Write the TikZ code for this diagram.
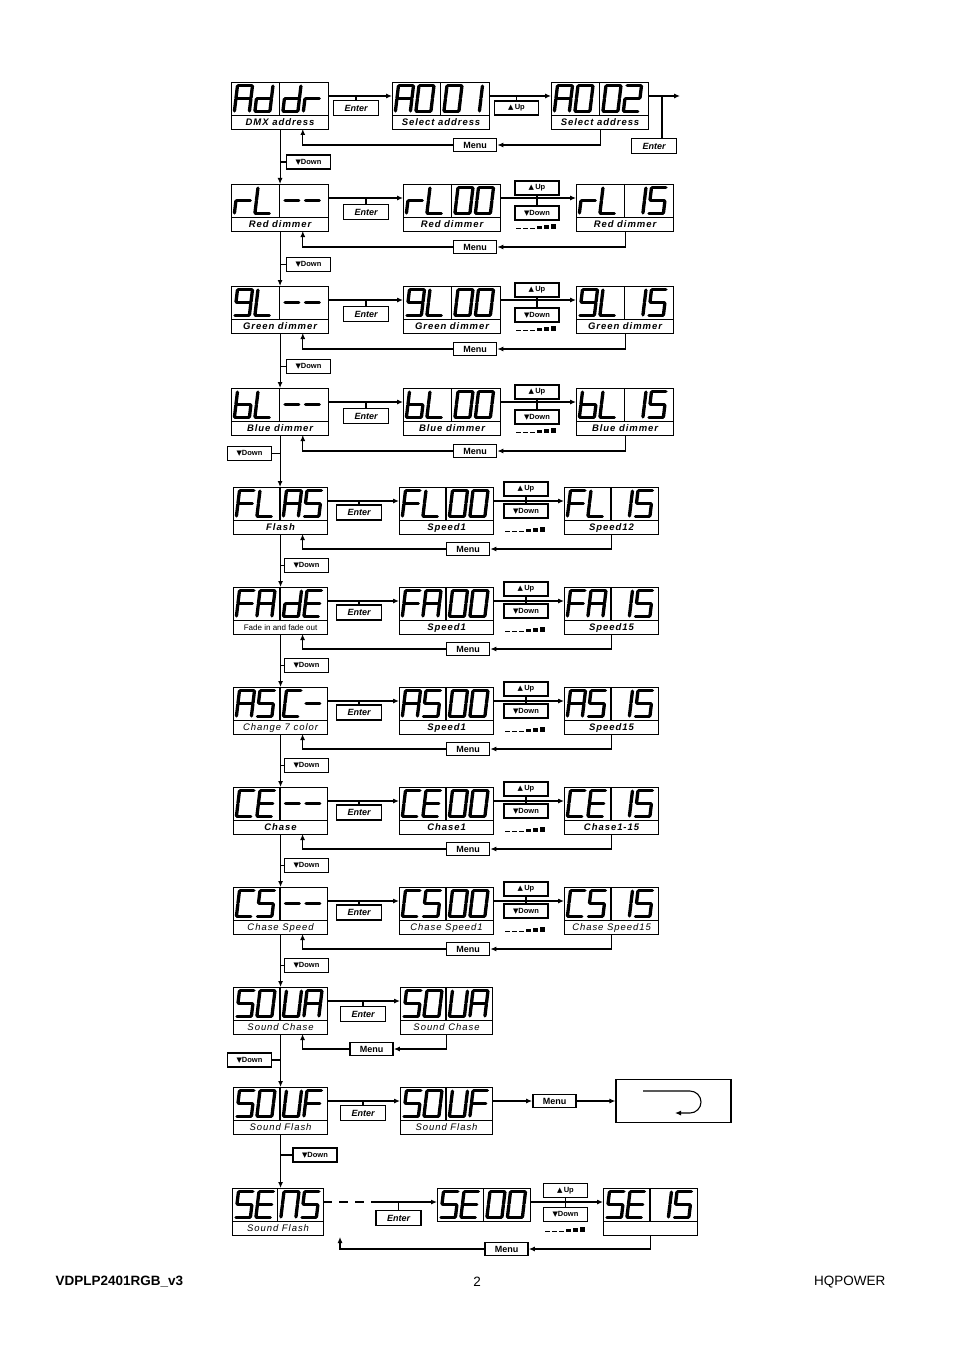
\documentclass[tikz,border=0pt]{standalone}
\usepackage{fontspec}
\setmainfont{Liberation Sans}
\newfontfamily\lblfont[LetterSpace=10]{Liberation Sans}
\newfontfamily\symfont{DejaVu Sans}
\usetikzlibrary{arrows.meta,positioning}

\tikzset{every picture/.style={line width=1.1pt}}
\tikzset{
  ledseg/.style={line width=3.3pt,line cap=round},
  panel/.style={draw,line width=1.1pt,anchor=north west,inner sep=0pt},
  panellbl/.style={font=\lblfont\bfseries\itshape\fontsize{9.5}{10}\selectfont},
  keybox/.style={draw,line width=1.1pt,inner sep=0pt,minimum width=45,minimum height=15,font=\bfseries\itshape\fontsize{9}{10}\selectfont},
  navkey/.style={keybox,minimum width=44,minimum height=14,font=\bfseries\fontsize{7.5}{8}\selectfont},
  menubox/.style={draw,line width=1.7pt,inner sep=0pt,minimum width=43,minimum height=13,font=\bfseries\fontsize{9}{10}\selectfont},
  flow/.style={-{Latex[length=6pt,width=5pt]}}
}

% seven segment pieces (cell 15 x 26, y downwards)
\def\sga{(0.6,0)--(14.4,0)}
\def\sgb{(15,0.6)--(15,12.4)}
\def\sgc{(15,13.6)--(15,25.4)}
\def\sgd{(0.6,26)--(14.4,26)}
\def\sge{(0,13.6)--(0,25.4)}
\def\sgf{(0,0.6)--(0,12.4)}
\def\sgg{(0.6,13)--(14.4,13)}
\newcommand{\defseg}[2]{\expandafter\def\csname ledchar#1\endcsname{#2}}
\defseg{A}{a,b,c,e,f,g}
\defseg{d}{b,c,d,e,g}
\defseg{r}{e,g}
\defseg{0}{a,b,c,d,e,f}
\defseg{1}{b,c}
\defseg{2}{a,b,g,e,d}
\defseg{L}{f,e,d}
\defseg{-}{g}
\defseg{S}{a,f,g,c,d}
\defseg{5}{a,f,g,c,d}
\defseg{9}{a,b,c,d,f,g}
\defseg{b}{f,e,d,c,g}
\defseg{F}{a,f,e,g}
\defseg{E}{a,f,e,g,d}
\defseg{C}{a,f,e,d}
\defseg{U}{f,e,d,c,b}
\defseg{n}{a,b,c,e,f}

\newcommand{\ledchar}[3]{%
  \begin{scope}[shift={(#1,#2)},xslant=-0.12]
    \edef\seglist{\csname ledchar#3\endcsname}%
    \foreach \s in \seglist {\edef\segcmd{\noexpand\draw[ledseg] \csname sg\s\endcsname;}\segcmd}
  \end{scope}}
\newcommand{\ledtop}[8]{%
  \node[panel,minimum width=#4,minimum height=33] (#1) at (#2,#3) {};
  \draw (#2+#4/2,#3) -- (#2+#4/2,#3+33);
  \ledchar{#2+6.5}{#3+3.5}{#5}\ledchar{#2+27}{#3+3.5}{#6}%
  \ledchar{#2+#4/2+6.5}{#3+3.5}{#7}\ledchar{#2+#4/2+27}{#3+3.5}{#8}%
  \coordinate (#1-w) at (#2,#3+14);
  \coordinate (#1-e) at (#2+#4,#3+14);}
\newcommand{\ledpanel}[9]{%
  \ledtop{#1}{#2}{#3}{#4}{#5}{#6}{#7}{#8}%
  \node[panel,panellbl,minimum width=#4,minimum height=14] (#1-lbl) at (#2,#3+33) {#9};
  \coordinate (#1-r) at (#2+0.74*#4,#3+47);}
\newcommand{\levelmarks}[2]{%
  \foreach \dx/\h in {0/1.3,7/1.3,14/1.5,21/3.2,28/4,35/5}{\fill (#1+\dx,#2) rectangle ++(5,-\h);}}
\newcommand{\upkey}{{\symfont\fontsize{7}{8}\selectfont ▲}\,Up}
\newcommand{\downkey}{{\symfont\fontsize{7}{8}\selectfont ▼}Down}

\begin{document}
\begin{tikzpicture}[x=1pt,y=1pt,yscale=-1,xscale=1]
	\useasboundingbox (0,0) rectangle (954,1351);
	
	%Row: DMX address
	\ledpanel{addr}{231}{82}{97}{A}{d}{d}{r}{DMX address}
	\ledpanel{a001}{392}{82}{97}{A}{0}{0}{1}{Select address}
	\ledpanel{a002}{551}{82}{97}{A}{0}{0}{2}{Select address}
	\node[keybox] (enter1) at (356,108) {Enter};
	\node[navkey] (up1) at (516.5,108) {\upkey};
	\node[keybox] (enter1b) at (654,146) {Enter};
	\node[menubox] (menu1) at (475,145) {Menu};
	\node[navkey] (down1) at (308.5,162) {\downkey};
	\coordinate (a002-tap) at (662,96);
	\coordinate (a002-out) at (680,96);
	%Straight Lines
	\draw[flow] (addr-e) -- (a001-w);
	\draw (enter1.north) -- (enter1.north |- addr-e);
	\draw[flow] (a001-e) -- (a002-w);
	\draw (up1.north) -- (up1.north |- a001-e);
	\draw[flow] (a002-e) -- (a002-out);
	\draw (a002-tap) -- (a002-tap |- enter1b.north);
	\draw[flow] (a002-lbl.south) |- (menu1.east);
	\draw[flow] (menu1.west) -| (addr-r);
	\draw (down1.west) -- (down1.west -| addr-lbl.south);
	
	%Row: Red dimmer
	\ledpanel{rl}{231}{184}{97}{r}{L}{-}{-}{Red dimmer}
	\ledpanel{rl00}{403}{184}{97}{r}{L}{0}{0}{Red dimmer}
	\ledpanel{rl15}{576}{184}{97}{r}{L}{1}{5}{Red dimmer}
	\node[keybox] (enter2) at (366,212) {Enter};
	\node[navkey] (up2) at (537,188) {\upkey};
	\node[navkey] (down2b) at (537,213) {\downkey};
	\levelmarks{516}{229}
	\node[menubox] (menu2) at (475,247) {Menu};
	\node[navkey] (down2) at (308.5,264.5) {\downkey};
	%Straight Lines
	\draw[flow] (addr-lbl.south) -- (addr-lbl.south |- rl.north);
	\draw[flow] (rl-e) -- (rl00-w);
	\draw (enter2.north) -- (enter2.north |- rl-e);
	\draw[flow] (rl00-e) -- (rl15-w);
	\draw (up2.south) -- (down2b.north);
	\draw[flow] (rl15-lbl.south) |- (menu2.east);
	\draw[flow] (menu2.west) -| (rl-r);
	\draw (down2.west) -- (down2.west -| rl-lbl.south);
	
	%Row: Green dimmer
	\ledpanel{gl}{231}{286}{97}{9}{L}{-}{-}{Green dimmer}
	\ledpanel{gl00}{403}{286}{97}{9}{L}{0}{0}{Green dimmer}
	\ledpanel{gl15}{576}{286}{97}{9}{L}{1}{5}{Green dimmer}
	\node[keybox] (enter3) at (366,314) {Enter};
	\node[navkey] (up3) at (537,290) {\upkey};
	\node[navkey] (down3b) at (537,315) {\downkey};
	\levelmarks{516}{331}
	\node[menubox] (menu3) at (475,349) {Menu};
	\node[navkey] (down3) at (308.5,366.5) {\downkey};
	%Straight Lines
	\draw[flow] (rl-lbl.south) -- (rl-lbl.south |- gl.north);
	\draw[flow] (gl-e) -- (gl00-w);
	\draw (enter3.north) -- (enter3.north |- gl-e);
	\draw[flow] (gl00-e) -- (gl15-w);
	\draw (up3.south) -- (down3b.north);
	\draw[flow] (gl15-lbl.south) |- (menu3.east);
	\draw[flow] (menu3.west) -| (gl-r);
	\draw (down3.west) -- (down3.west -| gl-lbl.south);
	
	%Row: Blue dimmer
	\ledpanel{bl}{231}{388}{97}{b}{L}{-}{-}{Blue dimmer}
	\ledpanel{bl00}{403}{388}{97}{b}{L}{0}{0}{Blue dimmer}
	\ledpanel{bl15}{576}{388}{97}{b}{L}{1}{5}{Blue dimmer}
	\node[keybox] (enter4) at (366,416) {Enter};
	\node[navkey] (up4) at (537,392) {\upkey};
	\node[navkey] (down4b) at (537,417) {\downkey};
	\levelmarks{516}{433}
	\node[menubox] (menu4) at (475,451) {Menu};
	\node[navkey] (down4) at (249.5,453.5) {\downkey};
	%Straight Lines
	\draw[flow] (gl-lbl.south) -- (gl-lbl.south |- bl.north);
	\draw[flow] (bl-e) -- (bl00-w);
	\draw (enter4.north) -- (enter4.north |- bl-e);
	\draw[flow] (bl00-e) -- (bl15-w);
	\draw (up4.south) -- (down4b.north);
	\draw[flow] (bl15-lbl.south) |- (menu4.east);
	\draw[flow] (menu4.west) -| (bl-r);
	\draw (down4.east) -- (down4.east -| bl-lbl.south);
	
	%Row: Flash
	\ledpanel{flas}{233}{487}{94}{F}{L}{A}{S}{Flash}
	\ledpanel{fl00}{399}{487}{94}{F}{L}{0}{0}{Speed1}
	\ledpanel{fl15}{564}{487}{94}{F}{L}{1}{5}{Speed12}
	\node[keybox] (enter5) at (359,512.5) {Enter};
	\node[navkey] (up5) at (526,489) {\upkey};
	\node[navkey] (down5b) at (526,511) {\downkey};
	\levelmarks{505}{532}
	\node[menubox] (menu5) at (468,549) {Menu};
	\node[navkey] (down5) at (306.5,565.5) {\downkey};
	%Straight Lines
	\draw[flow] (bl-lbl.south) -- (bl-lbl.south |- flas.north);
	\draw[flow] (flas-e) -- (fl00-w);
	\draw (enter5.north) -- (enter5.north |- flas-e);
	\draw[flow] (fl00-e) -- (fl15-w);
	\draw (up5.south) -- (down5b.north);
	\draw[flow] (fl15-lbl.south) |- (menu5.east);
	\draw[flow] (menu5.west) -| (flas-r);
	\draw (down5.west) -- (down5.west -| flas-lbl.south);
	
	%Row: Fade
	\ledpanel{fade}{233}{587}{94}{F}{A}{d}{E}{\normalfont\fontsize{8}{9}\selectfont Fade in and fade out}
	\ledpanel{fa00}{399}{587}{94}{F}{A}{0}{0}{Speed1}
	\ledpanel{fa15}{564}{587}{94}{F}{A}{1}{5}{Speed15}
	\node[keybox] (enter6) at (359,612.5) {Enter};
	\node[navkey] (up6) at (526,589) {\upkey};
	\node[navkey] (down6b) at (526,611) {\downkey};
	\levelmarks{505}{632}
	\node[menubox] (menu6) at (468,649) {Menu};
	\node[navkey] (down6) at (306.5,665.5) {\downkey};
	%Straight Lines
	\draw[flow] (flas-lbl.south) -- (flas-lbl.south |- fade.north);
	\draw[flow] (fade-e) -- (fa00-w);
	\draw (enter6.north) -- (enter6.north |- fade-e);
	\draw[flow] (fa00-e) -- (fa15-w);
	\draw (up6.south) -- (down6b.north);
	\draw[flow] (fa15-lbl.south) |- (menu6.east);
	\draw[flow] (menu6.west) -| (fade-r);
	\draw (down6.west) -- (down6.west -| fade-lbl.south);
	
	%Row: Change 7 color
	\ledpanel{asc}{233}{687}{94}{A}{S}{C}{-}{\mdseries Change 7 color}
	\ledpanel{as00}{399}{687}{94}{A}{S}{0}{0}{Speed1}
	\ledpanel{as15}{564}{687}{94}{A}{S}{1}{5}{Speed15}
	\node[keybox] (enter7) at (359,712.5) {Enter};
	\node[navkey] (up7) at (526,689) {\upkey};
	\node[navkey] (down7b) at (526,711) {\downkey};
	\levelmarks{505}{732}
	\node[menubox] (menu7) at (468,749) {Menu};
	\node[navkey] (down7) at (306.5,765.5) {\downkey};
	%Straight Lines
	\draw[flow] (fade-lbl.south) -- (fade-lbl.south |- asc.north);
	\draw[flow] (asc-e) -- (as00-w);
	\draw (enter7.north) -- (enter7.north |- asc-e);
	\draw[flow] (as00-e) -- (as15-w);
	\draw (up7.south) -- (down7b.north);
	\draw[flow] (as15-lbl.south) |- (menu7.east);
	\draw[flow] (menu7.west) -| (asc-r);
	\draw (down7.west) -- (down7.west -| asc-lbl.south);
	
	%Row: Chase
	\ledpanel{ce}{233}{787}{94}{C}{E}{-}{-}{Chase}
	\ledpanel{ce00}{399}{787}{94}{C}{E}{0}{0}{Chase1}
	\ledpanel{ce15}{564}{787}{94}{C}{E}{1}{5}{Chase1-15}
	\node[keybox] (enter8) at (359,812.5) {Enter};
	\node[navkey] (up8) at (526,789) {\upkey};
	\node[navkey] (down8b) at (526,811) {\downkey};
	\levelmarks{505}{832}
	\node[menubox] (menu8) at (468,849) {Menu};
	\node[navkey] (down8) at (306.5,865.5) {\downkey};
	%Straight Lines
	\draw[flow] (asc-lbl.south) -- (asc-lbl.south |- ce.north);
	\draw[flow] (ce-e) -- (ce00-w);
	\draw (enter8.north) -- (enter8.north |- ce-e);
	\draw[flow] (ce00-e) -- (ce15-w);
	\draw (up8.south) -- (down8b.north);
	\draw[flow] (ce15-lbl.south) |- (menu8.east);
	\draw[flow] (menu8.west) -| (ce-r);
	\draw (down8.west) -- (down8.west -| ce-lbl.south);
	
	%Row: Chase Speed
	\ledpanel{cs}{233}{887}{94}{C}{S}{-}{-}{\mdseries Chase Speed}
	\ledpanel{cs00}{399}{887}{94}{C}{S}{0}{0}{\mdseries Chase Speed1}
	\ledpanel{cs15}{564}{887}{94}{C}{S}{1}{5}{\mdseries Chase Speed15}
	\node[keybox] (enter9) at (359,912.5) {Enter};
	\node[navkey] (up9) at (526,889) {\upkey};
	\node[navkey] (down9b) at (526,911) {\downkey};
	\levelmarks{505}{932}
	\node[menubox] (menu9) at (468,949) {Menu};
	\node[navkey] (down9) at (306.5,965.5) {\downkey};
	%Straight Lines
	\draw[flow] (ce-lbl.south) -- (ce-lbl.south |- cs.north);
	\draw[flow] (cs-e) -- (cs00-w);
	\draw (enter9.north) -- (enter9.north |- cs-e);
	\draw[flow] (cs00-e) -- (cs15-w);
	\draw (up9.south) -- (down9b.north);
	\draw[flow] (cs15-lbl.south) |- (menu9.east);
	\draw[flow] (menu9.west) -| (cs-r);
	\draw (down9.west) -- (down9.west -| cs-lbl.south);
	
	%Row: Sound Chase
	\ledpanel{soua}{233}{987}{94}{S}{0}{U}{A}{\mdseries Sound Chase}
	\ledpanel{soua2}{400}{987}{92}{S}{0}{U}{A}{\mdseries Sound Chase}
	\node[keybox] (enter10) at (363,1014) {Enter};
	\node[menubox] (menu10) at (371.5,1049) {Menu};
	\node[navkey] (down10) at (249.5,1060) {\downkey};
	%Straight Lines
	\draw[flow] (cs-lbl.south) -- (cs-lbl.south |- soua.north);
	\draw[flow] (soua-e) -- (soua2-w);
	\draw (enter10.north) -- (enter10.north |- soua-e);
	\draw[flow] (soua2-lbl.south) |- (menu10.east);
	\draw[flow] (menu10.west) -| (soua-r);
	\draw (down10.east) -- (down10.east -| soua-lbl.south);
	
	%Row: Sound Flash
	\ledpanel{souf}{233}{1087}{94}{S}{0}{U}{F}{\mdseries Sound Flash}
	\ledpanel{souf2}{400}{1087}{92}{S}{0}{U}{F}{\mdseries Sound Flash}
	\node[keybox] (enter11) at (363,1113) {Enter};
	\node[menubox] (menu11) at (554.5,1101) {Menu};
	\node[draw,inner sep=0pt,minimum width=115,minimum height=43] (backbox) at (673.5,1101) {};
	\node[navkey] (down11) at (315,1155) {\downkey};
	%Straight Lines
	\draw[flow] (soua-lbl.south) -- (soua-lbl.south |- souf.north);
	\draw[flow] (souf-e) -- (souf2-w);
	\draw (enter11.north) -- (enter11.north |- souf-e);
	\draw[flow] (souf2-e) -- (souf2-e -| menu11.west);
	\draw[flow] (menu11.east) -- (backbox.west);
	\draw[flow] (643,1091) -- (690,1091) arc[start angle=-90,end angle=90,radius=11] -- (675,1113);
	\draw (down11.west) -- (down11.west -| souf-lbl.south);
	
	%Row: Sens
	\ledpanel{sens}{232}{1188}{91}{S}{E}{n}{S}{\mdseries Sound Flash}
	\ledtop{se00}{437}{1188}{93}{S}{E}{0}{0}
	\ledpanel{se15}{603}{1188}{94}{S}{E}{1}{5}{}
	\node[keybox] (enter12) at (398.5,1218) {Enter};
	\node[navkey] (up12) at (565.5,1190.5) {\upkey};
	\node[navkey] (down12b) at (565.5,1214.5) {\downkey};
	\levelmarks{545}{1232}
	\node[menubox] (menu12) at (506.5,1249) {Menu};
	\coordinate (sens-dash) at (375,1202);
	\coordinate (sens-ret) at (340,1237);
	%Straight Lines
	\draw[flow] (souf-lbl.south) -- (souf-lbl.south |- sens.north);
	\draw[dash pattern={on 9pt off 7pt}] (sens-e) -- (sens-dash);
	\draw[flow] (sens-dash) -- (se00-w);
	\draw (enter12.north) -- (enter12.north |- sens-e);
	\draw[flow] (se00-e) -- (se15-w);
	\draw (up12.south) -- (down12b.north);
	\draw[flow] (se15-lbl.south) |- (menu12.east);
	\draw[flow] (menu12.west) -| (sens-ret);
	
	% Text Node
	\node[anchor=west,inner sep=0pt,font=\bfseries\fontsize{13.5}{15}\selectfont] (docref) at (55,1282) {VDPLP2401RGB\_v3};
	% Text Node
	\node[inner sep=0pt,font=\fontsize{13.5}{15}\selectfont] (pageno) at (477,1282) {2};
	% Text Node
	\node[anchor=east,inner sep=0pt,font=\fontsize{13.5}{15}\selectfont] (brand) at (886,1282) {HQPOWER};
	
\end{tikzpicture}
\end{document}
